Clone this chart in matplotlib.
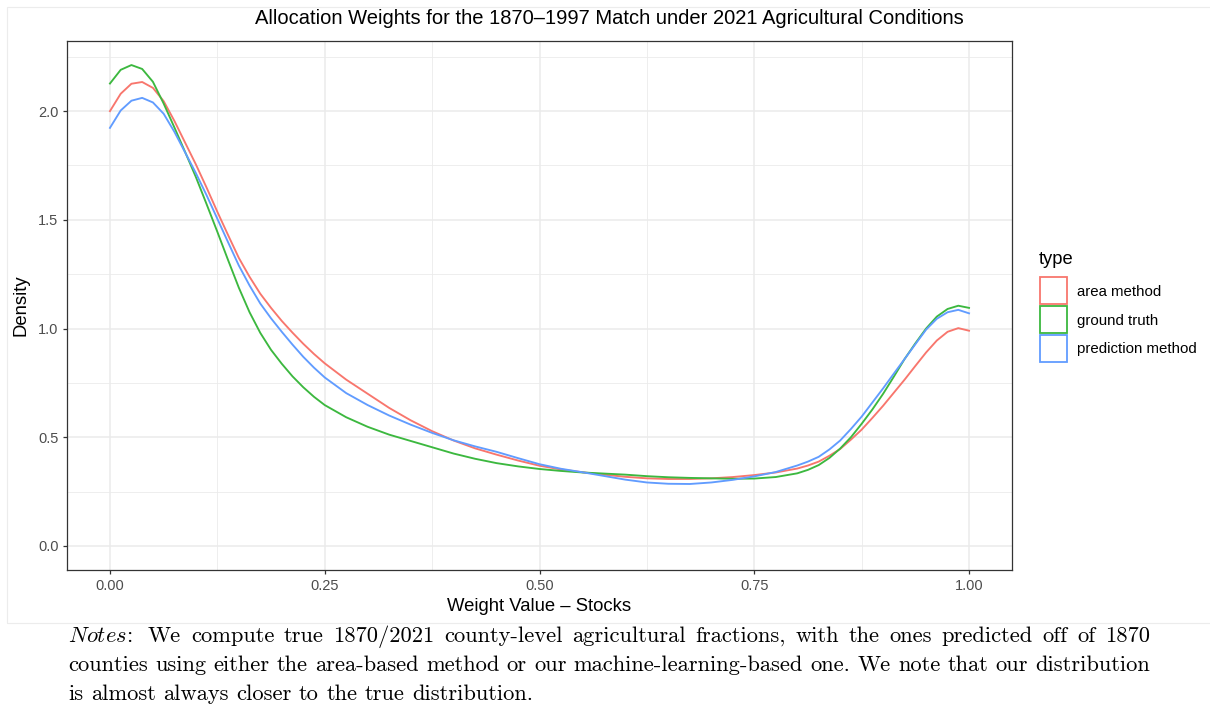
import matplotlib
matplotlib.use('Agg')
import matplotlib.pyplot as plt
from matplotlib.patches import Patch, Rectangle
from matplotlib.transforms import IdentityTransform

plt.rcParams['font.family'] = ['Liberation Sans', 'DejaVu Sans']
plt.rcParams['mathtext.fontset'] = 'cm'

# weight values the density curves were read at
weight = [0.0, 0.0125, 0.025, 0.0375, 0.05, 0.0625, 0.075, 0.0875, 0.1, 0.1125,
          0.125, 0.1375, 0.15, 0.1625, 0.175, 0.1875, 0.2, 0.2125, 0.225, 0.2375,
          0.25, 0.275, 0.3, 0.325, 0.35, 0.375, 0.4, 0.425, 0.45, 0.475,
          0.5, 0.525, 0.55, 0.575, 0.6, 0.625, 0.65, 0.675, 0.7, 0.725,
          0.75, 0.775, 0.8, 0.8125, 0.825, 0.8375, 0.85, 0.8625, 0.875, 0.8875,
          0.9, 0.9125, 0.925, 0.9375, 0.95, 0.9625, 0.975, 0.9875, 1.0]

area_method = [2.000, 2.080, 2.126, 2.134, 2.107, 2.046, 1.955, 1.855, 1.755, 1.648,
               1.537, 1.430, 1.325, 1.238, 1.160, 1.095, 1.035, 0.981, 0.930, 0.883,
               0.840, 0.765, 0.700, 0.635, 0.578, 0.528, 0.485, 0.449, 0.420, 0.393,
               0.369, 0.352, 0.339, 0.328, 0.318, 0.311, 0.308, 0.308, 0.311, 0.317,
               0.326, 0.338, 0.356, 0.370, 0.388, 0.415, 0.446, 0.489, 0.535, 0.589,
               0.645, 0.705, 0.765, 0.828, 0.890, 0.945, 0.985, 1.002, 0.990]

ground_truth = [2.127, 2.190, 2.212, 2.194, 2.135, 2.035, 1.925, 1.812, 1.697, 1.572,
                1.445, 1.315, 1.188, 1.075, 0.980, 0.902, 0.838, 0.780, 0.730, 0.686,
                0.648, 0.592, 0.548, 0.512, 0.483, 0.454, 0.425, 0.401, 0.381, 0.366,
                0.354, 0.345, 0.338, 0.333, 0.328, 0.321, 0.316, 0.313, 0.311, 0.309,
                0.310, 0.317, 0.334, 0.350, 0.372, 0.405, 0.448, 0.500, 0.562, 0.628,
                0.700, 0.779, 0.860, 0.932, 1.000, 1.055, 1.090, 1.105, 1.095]

prediction_method = [1.923, 2.003, 2.048, 2.061, 2.040, 1.988, 1.905, 1.810, 1.715, 1.613,
                     1.505, 1.397, 1.290, 1.198, 1.115, 1.047, 0.985, 0.926, 0.870, 0.820,
                     0.775, 0.703, 0.648, 0.600, 0.558, 0.520, 0.486, 0.458, 0.433, 0.404,
                     0.376, 0.355, 0.339, 0.322, 0.305, 0.292, 0.286, 0.285, 0.292, 0.304,
                     0.320, 0.340, 0.370, 0.388, 0.410, 0.444, 0.485, 0.538, 0.595, 0.660,
                     0.725, 0.793, 0.860, 0.928, 0.995, 1.045, 1.075, 1.086, 1.070]

series = {'area method': area_method,
          'ground truth': ground_truth,
          'prediction method': prediction_method}
colors = ['#F8766D', '#3CB83F', '#619CFF']

x_ticks = [0.0, 0.25, 0.5, 0.75, 1.0]
x_labels = ['0.00', '0.25', '0.50', '0.75', '1.00']
y_ticks = [0.0, 0.5, 1.0, 1.5, 2.0]
y_labels = ['0.0', '0.5', '1.0', '1.5', '2.0']

title = 'Allocation Weights for the 1870\u20131997 Match under 2021 Agricultural Conditions'
notes = [
    'We compute true 1870/2021 county-level agricultural fractions, with the ones predicted off of 1870',
    'counties using either the area-based method or our machine-learning-based one. We note that our distribution',
    'is almost always closer to the true distribution.',
]

W, H = 1210, 711
fig = plt.figure(figsize=(W / 100, H / 100), dpi=100)

# faint frame around the embedded chart
fig.patches.append(Rectangle((7 / W, 1 - 623 / H), 1.0, 616 / H, transform=fig.transFigure,
                             facecolor='none', edgecolor='#ececec', lw=0.8))

ax = fig.add_axes([67 / W, 1 - 570 / H, (1012 - 67) / W, (570 - 41) / H])

for (name, vals), c in zip(series.items(), colors):
    ax.plot(weight, vals, color=c, lw=1.35, label=name)

ymax = max(max(v) for v in series.values())
ax.set_xlim(-0.05, 1.05)
ax.set_ylim(-0.05 * ymax, ymax * 1.05)

ax.set_xticks(x_ticks)
ax.set_xticklabels(x_labels)
ax.set_yticks(y_ticks)
ax.set_yticklabels(y_labels)
ax.set_xticks([0.125, 0.375, 0.625, 0.875], minor=True)
ax.set_yticks([0.25, 0.75, 1.25, 1.75, 2.25], minor=True)
ax.grid(which='major', color='#EBEBEB', lw=1.1)
ax.grid(which='minor', color='#EBEBEB', lw=0.6)
ax.set_axisbelow(True)
ax.tick_params(which='major', length=3.2, width=0.9, color='#333333',
               labelsize=10.5, labelcolor='#4D4D4D', pad=3)
ax.tick_params(which='minor', length=0)
for s in ax.spines.values():
    s.set_color('#333333')
    s.set_linewidth(0.9)

ax.set_xlabel('Weight Value \u2013 Stocks', fontsize=13.3, labelpad=4)
ax.set_ylabel('Density', fontsize=13.3, labelpad=6)

fig.text(609 / W, 1 - 19 / H, title, fontsize=14.5, ha='center', va='center')

# legend: title set apart, keys are outlined squares
fig.text(1039 / W, 1 - 264 / H, 'type', fontsize=13.2, va='baseline')
handles = [Patch(facecolor='white', edgecolor=c, lw=1.3, label=n)
           for n, c in zip(series.keys(), colors)]
leg = fig.legend(handles=handles, loc='upper left',
                 bbox_to_anchor=(1032 / W, 1 - 270 / H), frameon=False,
                 fontsize=10.8, borderpad=0,
                 handlelength=1.8, handleheight=2.39, handletextpad=0.7,
                 labelspacing=0.13)

# justified notes paragraph in a Computer Modern face
renderer = fig.canvas.get_renderer()
note_fs = 16.2
left, right = 68, 1150
baselines = [641.5, 671, 700.5]


def width_of(s):
    t = fig.text(0, 0, s, fontsize=note_fs, family='cmr10')
    w = t.get_window_extent(renderer).width
    t.remove()
    return w


space_w = width_of('a a') - width_of('aa')


def put_line(words, base, justify, extra=None):
    extra = extra or {}
    arts = [fig.text(0, 0, w, fontsize=note_fs, family='cmr10', va='baseline',
                     transform=IdentityTransform()) for w in words]
    widths = [a.get_window_extent(renderer).width for a in arts]
    fixed = sum(extra.values())
    if justify and len(words) > 1:
        gap = (right - left - sum(widths) - fixed) / (len(words) - 1)
    else:
        gap = space_w
    x = left
    for i, (a, w) in enumerate(zip(arts, widths)):
        a.set_position((x, H - base))
        x += w + gap + extra.get(i, 0)


put_line(['$\\mathit{Notes}$:'] + notes[0].split(' '), baselines[0], True, {0: 6})
put_line(notes[1].split(' '), baselines[1], True)
put_line(notes[2].split(' '), baselines[2], False)

fig.savefig('out.png', dpi=100)
